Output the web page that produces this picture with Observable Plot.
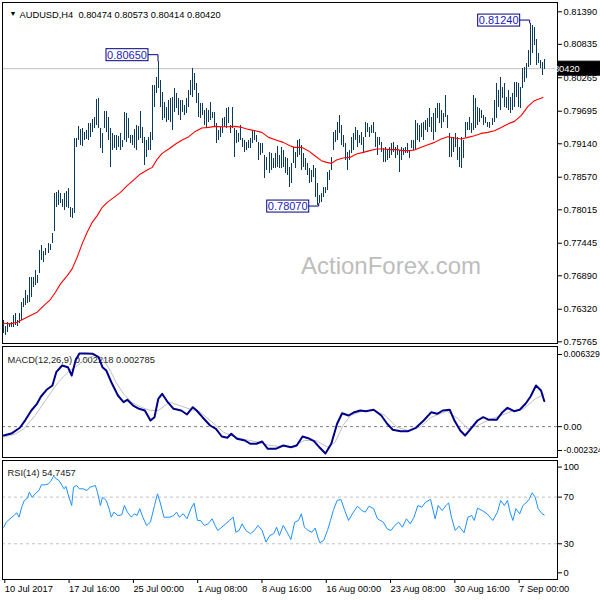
<!DOCTYPE html>
<html><head><meta charset="utf-8">
<script src="https://cdn.jsdelivr.net/npm/d3@7"></script>
<script src="https://cdn.jsdelivr.net/npm/@observablehq/plot@0.6"></script>
<style>
body{margin:0;background:#fff;}
#chart{width:600px;height:600px;overflow:hidden;background:#fff;}
#chart svg{display:block;}
</style></head><body><div id="chart"></div>
<script>
// ---------- data ----------
const symbol = "AUDUSD", timeframe = "H4";
const lastOHLC = [0.80474, 0.80573, 0.80414, 0.80420];
const watermark = "ActionForex.com";

const highs = [
0.76127,0.76025,0.76093,0.76076,0.76093,0.76212,0.76247,0.76127,0.76247,0.76434,
0.76502,0.76638,0.76553,0.76860,0.76860,0.76860,0.76979,0.76894,0.77319,0.77405,
0.77302,0.77354,0.77439,0.77422,0.77609,0.78290,0.78307,0.78341,0.78290,0.78188,
0.78290,0.78324,0.78375,0.78052,0.78035,0.79227,0.79227,0.79431,0.79380,0.79397,
0.79329,0.79363,0.79482,0.79482,0.79550,0.79585,0.79891,0.79908,0.79397,0.79312,
0.79687,0.79687,0.79585,0.79397,0.79312,0.79278,0.79278,0.79261,0.79312,0.79193,
0.79670,0.79653,0.79568,0.79278,0.79278,0.79380,0.79448,0.79431,0.79687,0.79414,
0.79244,0.79193,0.79244,0.79329,0.80129,0.80129,0.80266,0.80538,0.80215,0.80010,
0.79840,0.79755,0.79874,0.79908,0.79925,0.80078,0.79993,0.79908,0.79874,0.79874,
0.79789,0.79908,0.80044,0.80215,0.80419,0.80334,0.80164,0.79993,0.79823,0.79823,
0.79704,0.79738,0.79704,0.79840,0.79670,0.79670,0.79482,0.79363,0.79414,0.79568,
0.79585,0.79738,0.79755,0.79448,0.79755,0.79397,0.79363,0.79312,0.79448,0.79227,
0.79193,0.79159,0.79193,0.79227,0.79363,0.79363,0.79278,0.79159,0.79142,0.79142,
0.78937,0.78903,0.78988,0.78971,0.78886,0.78971,0.79091,0.78937,0.79074,0.79023,
0.78903,0.78886,0.78733,0.78801,0.79074,0.78988,0.79193,0.79210,0.79108,0.78971,
0.78886,0.78801,0.78716,0.78682,0.78767,0.78716,0.78460,0.78256,0.78290,0.78392,
0.78392,0.78648,0.78682,0.78903,0.79329,0.79363,0.79499,0.79619,0.79448,0.79278,
0.79142,0.78988,0.79023,0.79244,0.79312,0.79414,0.79363,0.79278,0.79329,0.79244,
0.79499,0.79482,0.79414,0.79448,0.79499,0.79329,0.79244,0.79244,0.79159,0.79057,
0.79074,0.79023,0.79074,0.79142,0.79159,0.79074,0.79108,0.79023,0.79074,0.79057,
0.79074,0.79142,0.79023,0.79193,0.79193,0.79533,0.79482,0.79448,0.79482,0.79499,
0.79533,0.79568,0.79738,0.79585,0.79653,0.79738,0.79823,0.79823,0.79704,0.79653,
0.79959,0.79619,0.79312,0.79244,0.79244,0.79312,0.79244,0.79074,0.79244,0.79193,
0.79499,0.79499,0.79585,0.79482,0.79959,0.79908,0.79755,0.79738,0.79704,0.79619,
0.79585,0.79499,0.79499,0.79568,0.79874,0.80164,0.80044,0.80266,0.80095,0.80164,
0.79925,0.80044,0.79925,0.79993,0.80181,0.80181,0.80164,0.80095,0.80419,0.80436,
0.80504,0.80726,0.81185,0.81151,0.81117,0.80913,0.80674,0.80555,0.80521,0.80573];

const lows = [
0.75906,0.75872,0.75923,0.76008,0.76008,0.76008,0.76042,0.76025,0.76076,0.76127,
0.76349,0.76383,0.76417,0.76434,0.76519,0.76689,0.76723,0.76757,0.76928,0.77149,
0.77115,0.77234,0.77268,0.77319,0.77439,0.77650,0.78052,0.78086,0.78120,0.78052,
0.78001,0.78052,0.78035,0.77881,0.77864,0.77950,0.79074,0.79193,0.79108,0.79091,
0.79193,0.79210,0.79193,0.79244,0.79329,0.79397,0.79448,0.79397,0.79057,0.78971,
0.79397,0.79329,0.79193,0.78733,0.79023,0.79057,0.79023,0.79074,0.79023,0.79074,
0.79193,0.79159,0.79227,0.79142,0.79108,0.79057,0.79023,0.79193,0.79227,0.79142,
0.78767,0.78903,0.79023,0.79023,0.79193,0.79755,0.79993,0.80078,0.79755,0.79533,
0.79568,0.79499,0.79533,0.79499,0.79363,0.79670,0.79738,0.79619,0.79533,0.79670,
0.79619,0.79653,0.79755,0.79959,0.79925,0.80044,0.79823,0.79585,0.79568,0.79619,
0.79448,0.79414,0.79499,0.79533,0.79568,0.79414,0.79142,0.79193,0.79244,0.79312,
0.79414,0.79397,0.79482,0.79312,0.79397,0.78903,0.79142,0.79159,0.79193,0.79074,
0.78988,0.79023,0.79057,0.79057,0.79142,0.79193,0.79159,0.78852,0.78937,0.78971,
0.78546,0.78682,0.78631,0.78682,0.78716,0.78716,0.78733,0.78716,0.78716,0.78733,
0.78631,0.78597,0.78392,0.78460,0.78801,0.78716,0.78903,0.78937,0.78682,0.78733,
0.78682,0.78597,0.78460,0.78477,0.78563,0.78222,0.78086,0.78120,0.78137,0.78222,
0.78290,0.78341,0.78512,0.78682,0.79023,0.79159,0.79193,0.79312,0.79108,0.79074,
0.78852,0.78682,0.78852,0.78971,0.79023,0.79193,0.79074,0.79142,0.79108,0.78971,
0.79244,0.79329,0.79244,0.79312,0.79312,0.79074,0.78937,0.79108,0.78988,0.78818,
0.78818,0.78852,0.78886,0.78937,0.78988,0.78886,0.78937,0.78648,0.78852,0.78937,
0.78971,0.78971,0.78886,0.79057,0.79023,0.79023,0.79193,0.79159,0.79244,0.79193,
0.79363,0.79329,0.79414,0.79329,0.79193,0.79329,0.79568,0.79482,0.79397,0.79499,
0.79585,0.79397,0.78903,0.78903,0.78988,0.79074,0.78852,0.78733,0.78716,0.78886,
0.79244,0.79363,0.79363,0.79312,0.79363,0.79397,0.79448,0.79499,0.79568,0.79448,
0.79482,0.79414,0.79397,0.79448,0.79499,0.79568,0.79755,0.79704,0.79908,0.79755,
0.79738,0.79704,0.79653,0.79704,0.79755,0.79925,0.79755,0.79738,0.80078,0.80181,
0.80249,0.80436,0.80470,0.80674,0.80811,0.80470,0.80504,0.80419,0.80300,0.80414];

// moving average (red) read at bar positions
const maIdx = [0,3.3,6.7,10,13.3,16.6,19.9,23.2,25.7,28.2,31.6,34,36.5,39,41.5,44,46.5,49,51.5,54.8,
58.1,61.4,64.7,68,71.4,73.9,76.4,78.8,82.1,85.5,88.8,92.1,95.3,98.6,101.9,105.2,108.5,111.8,115.2,118.5,
121.8,125.1,128.4,131.8,135.1,139.1,142.4,144.8,148.2,151.5,154.8,158.1,160.6,163.1,165.6,168.9,172.2,175.6,178.9,182.2,
185.5,188.8,192.1,195.5,198.8,202.1,204.4,207.8,211.1,214.4,217.7,221,224.3,227.7,231,234.3,237.6,240.9,244.2,247.6,
250.9,254.2,257.5,260.8,264.1,268.3];
const maVal = [0.76081,0.76071,0.76098,0.76156,0.76212,0.76269,0.76383,0.76485,0.76609,0.76752,
0.76894,0.77008,0.77205,0.77434,0.77631,0.77801,0.77916,0.78057,0.78142,0.78227,
0.78312,0.78426,0.78524,0.78626,0.78694,0.78738,0.78880,0.78976,0.79051,0.79137,
0.79205,0.79261,0.79351,0.79409,0.79419,0.79436,0.79431,0.79431,0.79436,0.79419,
0.79385,0.79363,0.79334,0.79249,0.79210,0.79164,0.79108,0.79079,0.79079,0.79023,
0.78937,0.78852,0.78823,0.78806,0.78864,0.78898,0.78908,0.78966,0.78994,0.79023,
0.79051,0.79051,0.79040,0.79040,0.79023,0.79023,0.79034,0.79079,0.79125,0.79164,
0.79222,0.79261,0.79239,0.79222,0.79249,0.79278,0.79317,0.79334,0.79363,0.79419,
0.79477,0.79522,0.79619,0.79772,0.79874,0.79930];

const priceTicks = [0.81390,0.80835,0.80265,0.79695,0.79140,0.78570,0.78015,0.77445,0.76890,0.76320,0.75765];

// high/low call-outs
const noteBar = [77, 262, 157];
const notePrice = [0.80650, 0.81240, 0.78070];
const noteSide = ["high", "high", "low"];

// MACD(12,26,9)
const macdTitle = "MACD(12,26,9) 0.002218 0.002785";
const macdRange = [-0.002324, 0.006329];
const macdIdx = [0,4.1,8,10.8,13.7,16.5,18.5,21.3,24.2,26.1,29,31.9,33.8,35.7,37.6,40.5,44.3,47.2,49.1,51,
53.9,56.8,59.6,61.5,64.4,67.3,70.2,73,75,76.9,78.8,81.6,84.5,88.3,91.2,94.1,96,98.9,102.7,105.6,
108.5,111.3,113.2,116.1,120,122.8,125.7,128.6,131.4,135.3,139.1,142.9,145.8,148.7,151.5,154.4,157.3,160.1,163,165.9,
168.4,171.6,174.5,177.4,180.2,184.1,187.9,190.8,193.6,197.5,201.3,205.1,209,212.8,215.7,218.5,222,224.3,227.2,229.6,
232,235.8,238.6,241.5,245.3,248.2,250.7,254,256.8,259.7,262.2,264.9,267.4,269];
const macdVal = [-0.000766,-0.000567,-0.0001,0.000592,0.001397,0.001977,0.002608,0.003188,0.00356,0.004711,
0.005291,0.005144,0.004425,0.005723,0.006329,0.006329,0.0063,0.006009,0.005144,0.004858,
0.003707,0.002695,0.002115,0.002323,0.001829,0.001544,0.001397,0.000531,0.000817,0.002409,
0.002842,0.002115,0.001544,0.001397,0.001051,0.001682,0.001397,0.000817,0.000099,-0.000187,
-0.000853,-0.000966,-0.000619,-0.001052,-0.001199,-0.001485,-0.001485,-0.001286,-0.001917,-0.001917,
-0.001632,-0.001779,-0.001632,-0.000853,-0.001,-0.00126,-0.001831,-0.002324,-0.001485,0.000246,
0.001163,0.000964,0.00125,0.001397,0.001336,0.001457,0.000964,0.000246,-0.000273,-0.000394,
-0.000394,-0.0001,0.000531,0.00125,0.001111,0.001397,0.001457,0.000531,-0.000334,-0.000766,
-0.000273,0.000531,0.000817,0.000592,0.000592,0.00125,0.00163,0.001336,0.001457,0.001977,
0.002608,0.00356,0.003127,0.002218];
const sigIdx = [0,6,9.9,15.6,21.3,27.1,32.8,36.7,40.5,45.3,49.1,53,55.8,59.6,63.5,68.2,73,76.9,82.6,87.4,
92.2,97.9,103.7,109.4,115.2,120.9,126.6,132.4,138.1,143.9,149.6,155.4,161.1,164.9,168.8,172.6,178.3,184.1,189.8,195.6,
201.3,207.1,212.8,220.5,226.2,231,235.8,241.5,247.3,253,258.8,264.5,269];
const sigVal = [-0.000914,-0.000619,-0.000187,0.000964,0.002409,0.003846,0.004858,0.005291,0.00587,0.006156,
0.00587,0.004858,0.003846,0.002842,0.002115,0.001682,0.001397,0.001397,0.002115,0.001829,
0.001544,0.00125,0.000384,-0.000481,-0.000914,-0.001139,-0.001346,-0.001632,-0.001718,-0.001718,
-0.001199,-0.001199,-0.001779,-0.001346,0.000099,0.000964,0.001336,0.001457,0.000964,-0.000048,
-0.000334,-0.000048,0.000817,0.001336,0.000679,-0.000187,0.000099,0.000592,0.000964,0.001336,
0.001544,0.002409,0.002785];

// RSI(14)
const rsiTitle = "RSI(14) 54.7457";
const rsiIdx = [0,1.2,3.1,5.1,6.4,7.6,8.9,10.2,11.8,12.7,14.1,15.6,17.5,18.7,20.4,22.3,23.3,24.8,26.1,27.5,
29,30,30.9,32.4,33.8,34.7,36.3,37.6,39.5,41.4,42.8,44.3,45.6,46.6,48.1,49.1,51,52.4,53.5,54.8,
56.8,58.7,60,61.5,63.5,65,66.3,67.7,69.2,71.1,73,75,76.5,77.8,79.7,82.6,84.5,86,87.4,89.3,
91.2,93.1,94.7,96.4,97.9,99.8,101.7,103.7,105.2,106.5,108.5,110.4,112.3,114.2,115.5,117.1,118.6,120.5,122.8,124.7,
126.6,128.6,130.5,132.4,134.3,135.8,137.2,139.1,141,142.9,144.8,146.7,148.1,149.6,151.5,153.4,155,156.3,157.3,159.2,
161.1,162.6,164,165.9,167.8,169.7,171.6,173.5,176,178.3,179.9,181.8,184.1,186,188.9,190.8,192.7,194.6,196.5,198.4,
200.4,202.3,204.2,206.1,208,209.9,212.4,214.7,216.2,218.2,220.1,221.4,222.8,224.7,226.6,229.1,231,232.9,234.2,235.8,
238.1,240.6,243.4,245.7,247.3,249.2,250.7,252,253.4,254.9,256.8,258.4,260.3,261.6,263,264.5,266,267.9,269];
const rsiVal = [44.2,48.5,51.4,54.2,56.6,52.8,61.3,67.1,69.1,74.2,69.9,72.8,75.7,80.5,80.5,81.4,83.4,87.9,85.7,84.2,
79.9,77.1,79.3,69.9,62.8,78.5,79.9,77.1,77.1,75.7,78.5,79.3,79.9,74.2,62.8,69.9,67.1,60,52.8,57.1,
54.2,54.8,62.8,57.1,52.8,55.7,54.2,60,52.8,45.7,48.5,62.8,72.8,65.6,52.8,52.8,54.2,57.1,52.8,55.7,
51.4,60,64.8,50,50,45.7,47.1,51.4,45.7,41.4,44.2,47.1,50,52.8,39.9,41.4,47.1,41.4,38.6,41.4,
45.7,41.4,31.4,37.1,38.6,44.2,37.1,45.7,39.9,33.7,48.5,50,55.7,44.2,41.4,39.9,43.4,35.7,30.9,32.8,
41.4,50,58.5,67.1,68,58.5,50,55.7,62.2,58.5,57.1,62.2,60,51.4,48.5,42.8,41.4,45.7,48.5,44.2,
51.4,47.1,52.8,62.8,61.3,65.6,68,51.4,62.8,58.5,62.8,65.1,52.8,41.4,45.1,39.4,52.8,54.2,50,60.5,
58.5,55.7,50,57.1,67.1,62.8,67.1,57.1,50,60,55.7,62.8,65.6,68.5,73.7,69.9,60,55.7,54.75];
const rsiLevels = [70, 30];

// time axis (bar index of each label)
const timeTickIdx = [0,32,64,96,128,160,192,224,256];
const timeLabels = ["10 Jul 2017","17 Jul 16:00","25 Jul 00:00","1 Aug 08:00","8 Aug 16:00","16 Aug 00:00","23 Aug 08:00","30 Aug 16:00","7 Sep 00:00"];

// ---------- drawing ----------
const FONT = "'Liberation Sans', Arial, sans-serif";
const FS = "9.3px";
const BAR = "#0d3a5a";
const xDom = [-0.65, 275.6];
const style = {fontFamily: FONT, fontSize: FS, background: "#fff", color: "#000"};
const ax = {anchor: "right", tickSize: 4, tickPadding: 2, label: null};

const bars = highs.map((h, i) => ({i, high: h, low: lows[i]}));
const ma = maIdx.map((i, k) => ({i, v: maVal[k]}));
const macdLine = macdIdx.map((i, k) => ({i, v: macdVal[k]}));
const sigLine = sigIdx.map((i, k) => ({i, v: sigVal[k]}));
const rsiLine = rsiIdx.map((i, k) => ({i, v: rsiVal[k]}));
const timeMap = new Map(timeTickIdx.map((d, k) => [d, timeLabels[k]]));
const titleText = `${symbol},${timeframe}\u00a0\u00a0${lastOHLC.map(v => v.toFixed(5)).join(" ")}`;
const NS = "http://www.w3.org/2000/svg";
const fnOf = s => (typeof s === "function" ? s : v => s.apply(v));

// call-out boxes and current price tag, drawn from the plot's own scales
function overlay(index, scales, values, dims) {
  const sx = fnOf(scales.x), sy = fnOf(scales.y);
  const g = d3.select(document.createElementNS(NS, "g"));
  noteBar.forEach((b, k) => {
    const bx = sx(b);
    const ly = sy(notePrice[k]);
    const ey = sy(noteSide[k] === "high" ? highs[b] : lows[b]);
    const right = bx - 10, w = 42, h = 12;
    g.append("path").attr("d", `M${right},${ly}H${bx}V${ey}`).attr("fill", "none").attr("stroke", "#000080");
    g.append("rect").attr("x", right - w).attr("y", ly - h / 2).attr("width", w).attr("height", h)
      .attr("fill", "#ffffff").attr("stroke", "#000080");
    g.append("text").attr("x", right - w / 2).attr("y", ly).attr("dy", "0.36em")
      .attr("font-family", FONT).attr("font-size", 11)
      .attr("text-anchor", "middle").attr("fill", "#1a1ab8").text(notePrice[k].toFixed(5));
  });
  const cy = sy(lastOHLC[3]);
  const x0 = dims.width - dims.marginRight;
  g.append("rect").attr("x", x0 + 1).attr("y", cy - 7).attr("width", dims.marginRight - 1).attr("height", 14)
    .attr("fill", "#000000").attr("stroke", "#000000");
  g.append("text").attr("x", x0 + 6).attr("y", cy).attr("dy", "0.36em")
    .attr("font-family", FONT).attr("font-size", FS).attr("fill", "#ffffff").attr("stroke", "none")
    .text(lastOHLC[3].toFixed(5));
  return g.node();
}

const main = Plot.plot({
  width: 600, height: 345,
  marginLeft: 2, marginRight: 43, marginTop: 2, marginBottom: 2,
  style,
  x: {domain: xDom, axis: null},
  y: {domain: [0.75736, 0.81548]},
  marks: [
    Plot.text([watermark], {text: d => d, frameAnchor: "middle", dx: 111, dy: 93, fontSize: 24, fill: "#bdbdbd"}),
    Plot.ruleY([lastOHLC[3]], {stroke: "#c0c0c0"}),
    Plot.ruleX(bars, {x: "i", y1: "low", y2: "high", stroke: BAR, strokeWidth: 1, shapeRendering: "crispEdges"}),
    Plot.line(ma, {x: "i", y: "v", stroke: "#ff0000", strokeWidth: 1.1}),
    Plot.axisY(priceTicks, {...ax, tickFormat: d => d.toFixed(5)}),
    Plot.text(["\u25BC"], {text: d => d, frameAnchor: "top-left", dx: 7, dy: 9, fontSize: 7, textAnchor: "start"}),
    Plot.text([titleText], {text: d => d, frameAnchor: "top-left", dx: 17, dy: 9, textAnchor: "start"}),
    Plot.frame({stroke: "#000"}),
    overlay
  ]
});

const macd = Plot.plot({
  width: 600, height: 114,
  marginLeft: 2, marginRight: 43, marginTop: 1, marginBottom: 2,
  style: {...style, fontSize: "8.7px"},
  x: {domain: xDom, axis: null},
  y: {domain: macdRange, range: [108, 8]},
  marks: [
    Plot.text([macdTitle], {text: d => d, frameAnchor: "top-left", dx: 5, dy: 10, textAnchor: "start", fill: "#222", fontSize: 9.3}),
    Plot.ruleY([0], {stroke: "#808080", strokeDasharray: "3,3"}),
    Plot.line(sigLine, {x: "i", y: "v", stroke: "#c0c0c0", strokeWidth: 1}),
    Plot.line(macdLine, {x: "i", y: "v", stroke: "#00008b", strokeWidth: 2}),
    Plot.axisY([macdRange[1]], {...ax, dy: 1, tickFormat: d => d.toFixed(6)}),
    Plot.axisY([0], {...ax, fontSize: 9.3, tickFormat: d => d.toFixed(2)}),
    Plot.axisY([macdRange[0]], {...ax, dy: -3, tickFormat: d => d.toFixed(6)}),
    Plot.frame({stroke: "#000"})
  ]
});

const rsi = Plot.plot({
  width: 600, height: 141,
  marginLeft: 2, marginRight: 43, marginTop: 1, marginBottom: 21,
  style,
  x: {domain: xDom},
  y: {domain: [0, 100], range: [119.3, 2.6]},
  marks: [
    Plot.text([rsiTitle], {text: d => d, frameAnchor: "top-left", dx: 5, dy: 9, textAnchor: "start", fill: "#222"}),
    Plot.ruleY(rsiLevels, {stroke: "#c0c0c0", strokeDasharray: "3,3"}),
    Plot.line(rsiLine, {x: "i", y: "v", stroke: "#1e90ff", strokeWidth: 1}),
    Plot.axisY(rsiLevels, ax),
    Plot.axisY([100], {...ax, dy: 5}),
    Plot.axisY([0], {...ax, dy: -6}),
    Plot.axisX(timeTickIdx, {anchor: "bottom", tickSize: 4, tickPadding: 2, textAnchor: "start", dx: 1, label: null,
      tickFormat: d => timeMap.get(d)}),
    Plot.frame({stroke: "#000"})
  ]
});

const root = document.getElementById("chart");
root.append(main, macd, rsi);
</script>
</body></html>
